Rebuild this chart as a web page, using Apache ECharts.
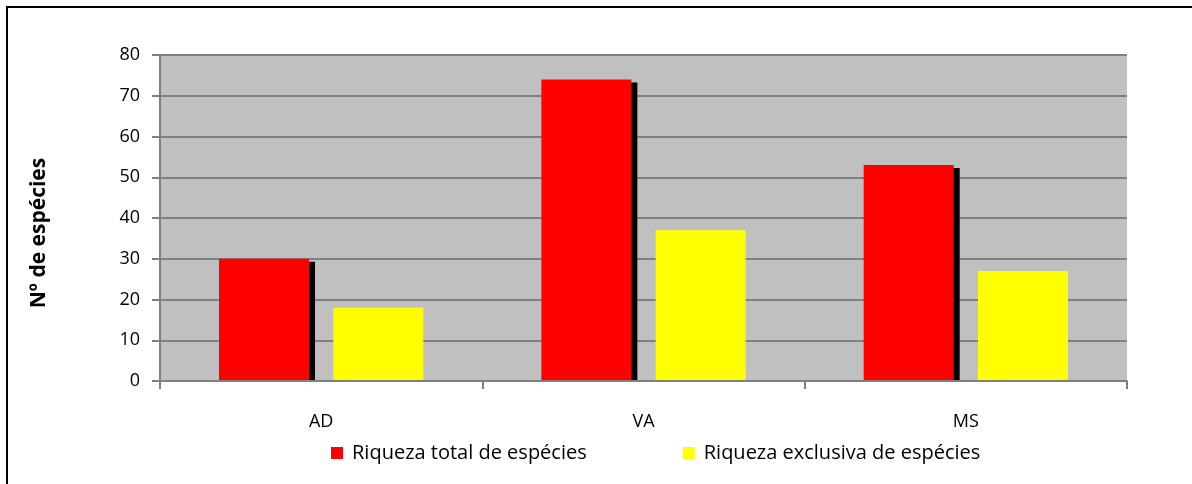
<!DOCTYPE html>
<html>
<head>
<meta charset="utf-8">
<script src="https://cdn.jsdelivr.net/npm/echarts@6/dist/echarts.min.js"></script>
<style>
  html, body { margin: 0; padding: 0; background: #fff; }
  #chart { width: 1192px; height: 484px; }
</style>
</head>
<body>
<div id="chart"></div>
<script>
// Species richness per area
const categories = ['AD', 'VA', 'MS'];
const totalRichness = [30, 74, 53];
const exclusiveRichness = [18, 37, 27];
const yTicks = { min: 0, max: 80, interval: 10 };
const seriesNames = ['Riqueza total de espécies', 'Riqueza exclusiva de espécies'];

const font = '"Open Sans", "Liberation Sans", sans-serif';
const gridBox = { left: 160, right: 65, top: 55, bottom: 103 };
const chart = echarts.init(document.getElementById('chart'));

chart.setOption({
  animation: false,
  backgroundColor: '#ffffff',
  graphic: [
    {
      // outer frame of the chart area
      type: 'rect',
      shape: { x: 7, y: 7, width: 1200, height: 500 },
      style: { fill: null, stroke: '#000000', lineWidth: 2 },
      silent: true
    },
    {
      // keeps the bar drop shadows from spilling below the category axis
      type: 'rect',
      z: 3,
      shape: { x: gridBox.left, y: 484 - gridBox.bottom + 1, width: 1192 - gridBox.left - gridBox.right + 2, height: 6 },
      style: { fill: '#ffffff' },
      silent: true
    }
  ],
  grid: {
    left: gridBox.left, right: gridBox.right, top: gridBox.top, bottom: gridBox.bottom,
    show: true,
    backgroundColor: '#c0c0c0',
    borderWidth: 0
  },
  legend: {
    data: seriesNames,
    top: 438,
    left: 326,
    itemWidth: 12,
    itemHeight: 12,
    itemGap: 96,
    icon: 'rect',
    textStyle: { fontFamily: font, fontSize: 20, color: '#000', padding: [0, 0, 0, 4] }
  },
  xAxis: {
    type: 'category',
    data: categories,
    z: 5,
    axisLine: { lineStyle: { color: '#808080', width: 2 } },
    axisTick: { show: true, length: 8, lineStyle: { color: '#808080', width: 2 } },
    axisLabel: { fontFamily: font, fontSize: 18, color: '#000', margin: 32 },
    splitLine: { show: false }
  },
  yAxis: {
    type: 'value',
    min: yTicks.min,
    max: yTicks.max,
    interval: yTicks.interval,
    name: 'Nº de espécies',
    nameLocation: 'middle',
    nameGap: 110,
    nameTextStyle: { fontFamily: font, fontSize: 21, fontWeight: 'bold', color: '#000', padding: [0, 30, 0, 0] },
    axisLine: { show: true, lineStyle: { color: '#808080', width: 2 } },
    axisTick: { show: true, length: 8, lineStyle: { color: '#808080', width: 2 } },
    axisLabel: { fontFamily: font, fontSize: 18, color: '#000', margin: 20 },
    splitLine: { show: true, lineStyle: { color: '#808080', width: 2 } }
  },
  series: [
    {
      name: seriesNames[0],
      type: 'bar',
      data: totalRichness,
      barWidth: 90,
      barGap: '27%',
      itemStyle: {
        color: '#ff0000',
        shadowColor: '#000000',
        shadowBlur: 0,
        shadowOffsetX: 6,
        shadowOffsetY: 3
      }
    },
    {
      name: seriesNames[1],
      type: 'bar',
      data: exclusiveRichness,
      barWidth: 90,
      itemStyle: { color: '#ffff00' }
    }
  ]
});
</script>
</body>
</html>
